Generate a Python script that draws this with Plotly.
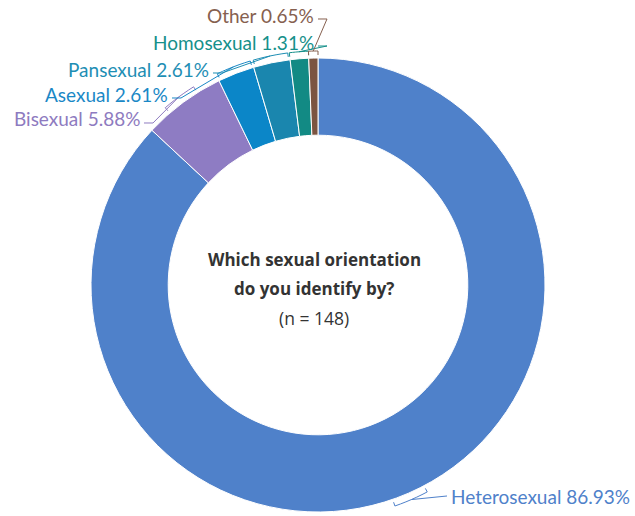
import math
import plotly.graph_objects as go

# Survey answers (share of respondents, %)
categories = ["Heterosexual", "Bisexual", "Asexual", "Pansexual", "Homosexual", "Other"]
shares = [86.93, 5.88, 2.61, 2.61, 1.31, 0.65]
colors = ["#4f81ca", "#8e7cc3", "#0b86c8", "#1a86ae", "#128a84", "#7b5441"]
label_colors = ["#4f81ca", "#8e7bc0", "#1a88c6", "#1e8eb4", "#16908a", "#86604f"]

title_lines = ["Which sexual orientation", "do you identify by?"]
sample_note = "(n = 148)"

W, H = 635, 516
CX, CY, R = 318, 285, 227          # donut centre and outer radius in px
HOLE = 0.66

# where each label's text ends (px) and its anchor side
label_pos = {
    "Heterosexual": (448, 496, "left"),
    "Bisexual": (143, 119, "right"),
    "Asexual": (171, 94, "right"),
    "Pansexual": (212, 69, "right"),
    "Homosexual": (317, 42, "right"),
    "Other": (317, 15, "right"),
}


def px(x, y):
    return x / W, 1 - y / H


def polar(frac, r):
    a = 2 * math.pi * frac
    return CX + r * math.sin(a), CY - r * math.cos(a)


fig = go.Figure(go.Pie(
    labels=categories,
    values=shares,
    sort=False,
    direction="clockwise",
    rotation=0,
    hole=HOLE,
    marker=dict(colors=colors, line=dict(color="white", width=1)),
    textinfo="none",
    hoverinfo="label+percent",
    domain=dict(x=[(CX - R) / W, (CX + R) / W], y=[1 - (CY + R) / H, 1 - (CY - R) / H]),
    showlegend=False,
))

shapes = []
annotations = []
total = sum(shares)
start = 0.0
for name, val, lc in zip(categories, shares, label_colors):
    f0 = start / total
    f1 = (start + val) / total
    start += val
    mid = (f0 + f1) / 2
    half = min((f1 - f0) / 2, 0.012)
    a0, a1 = mid - half, mid + half
    # bracket hugging the outside of the slice
    pts = [polar(a0, R + 3), polar(a0, R + 7)]
    n = 6
    for k in range(1, n + 1):
        pts.append(polar(a0 + (a1 - a0) * k / n, R + 7))
    pts.append(polar(a1, R + 3))
    path = "M " + " L ".join("%.5f %.5f" % px(x, y) for x, y in pts)
    shapes.append(dict(type="path", path=path, xref="paper", yref="paper",
                       line=dict(color=lc, width=1)))
    # connector from bracket to the label
    lx, ly, side = label_pos[name]
    bx, by = polar(mid, R + 7)
    if side == "right":
        conn = [(bx, by), (lx + 10, ly + 4), (lx + 1, ly + 4)]
    else:
        conn = [(bx, by), (lx - 1, ly)]
    path = "M " + " L ".join("%.5f %.5f" % px(x, y) for x, y in conn)
    shapes.append(dict(type="path", path=path, xref="paper", yref="paper",
                       line=dict(color=lc, width=1)))
    ax, ay = px(lx, ly)
    annotations.append(dict(
        x=ax, y=ay, xref="paper", yref="paper",
        text=f"{name} {val:.2f}%", showarrow=False,
        xanchor=side, yanchor="middle", xshift=(1 if side == "left" else -1),
        font=dict(family="Lato", size=19, color=lc),
    ))

# centre caption
cx_p, _ = px(CX - 4, 0)
for i, line in enumerate(title_lines):
    annotations.append(dict(
        x=cx_p, y=px(0, 259 + 29 * i)[1], xref="paper", yref="paper",
        text=f"<b>{line}</b>", showarrow=False, xanchor="center", yanchor="middle",
        font=dict(family="Open Sans", size=17, color="#333333"),
    ))
annotations.append(dict(
    x=cx_p, y=px(0, 318)[1], xref="paper", yref="paper",
    text=sample_note, showarrow=False, xanchor="center", yanchor="middle",
    font=dict(family="Open Sans", size=17.5, color="#333333"),
))

fig.update_layout(
    width=W, height=H,
    margin=dict(l=0, r=0, t=0, b=0),
    paper_bgcolor="white", plot_bgcolor="white",
    shapes=shapes, annotations=annotations,
)

fig.write_html("out.html")
